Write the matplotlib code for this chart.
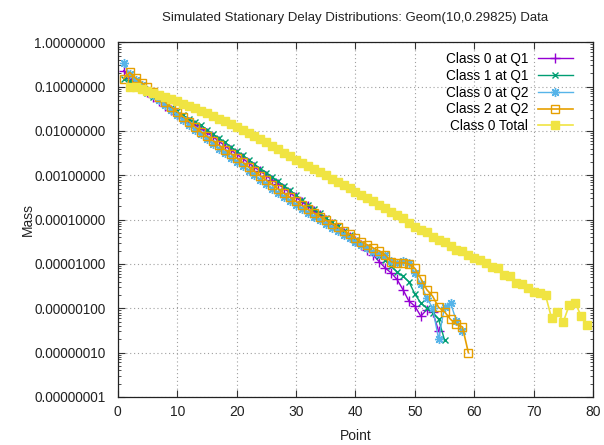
import numpy as np
import matplotlib.pyplot as plt
from matplotlib.ticker import LogLocator, FormatStrFormatter, NullFormatter

plt.rcParams['font.family'] = ['Liberation Sans', 'DejaVu Sans']

# log10 of the simulated mass at each delay point
c0_q1_x = list(range(1, 55))
c0_q1_log = [-0.64, -0.80, -0.92, -1.03, -1.13, -1.23, -1.33, -1.43, -1.52, -1.61,
             -1.70, -1.79, -1.87, -1.95, -2.04, -2.13, -2.23, -2.33, -2.43, -2.52,
             -2.62, -2.72, -2.82, -2.91, -3.01, -3.11, -3.20, -3.30, -3.40, -3.50,
             -3.60, -3.70, -3.80, -3.90, -4.00, -4.10, -4.20, -4.30, -4.40, -4.49,
             -4.58, -4.68, -4.80, -4.95, -5.09, -5.20, -5.35, -5.58, -5.84, -5.95,
             -6.18, -6.03, -6.08, -6.52]

c1_q1_x = list(range(1, 56))
c1_q1_log = [-0.82, -0.88, -0.97, -1.06, -1.14, -1.23, -1.31, -1.40, -1.48, -1.56,
             -1.65, -1.73, -1.80, -1.87, -1.97, -2.07, -2.16, -2.26, -2.36, -2.46,
             -2.55, -2.65, -2.75, -2.85, -2.94, -3.04, -3.14, -3.24, -3.34, -3.45,
             -3.55, -3.66, -3.76, -3.86, -3.96, -4.06, -4.15, -4.25, -4.35, -4.45,
             -4.54, -4.63, -4.72, -4.82, -4.92, -5.05, -5.18, -5.28, -5.40, -5.68,
             -5.88, -6.00, -6.10, -6.25, -6.72]

c0_q2_x = list(range(1, 59))
c0_q2_log = [-0.47, -0.72, -0.85, -0.96, -1.08, -1.20, -1.31, -1.42, -1.53, -1.64,
             -1.75, -1.86, -1.97, -2.08, -2.19, -2.29, -2.40, -2.50, -2.60, -2.70,
             -2.80, -2.90, -3.00, -3.10, -3.20, -3.30, -3.40, -3.50, -3.59, -3.68,
             -3.77, -3.86, -3.94, -4.02, -4.10, -4.18, -4.26, -4.34, -4.42, -4.50,
             -4.57, -4.65, -4.74, -4.78, -4.79, -4.94, -4.98, -4.94, -4.98, -5.20,
             -5.46, -5.76, -6.00, -6.70, -5.96, -5.88, -6.29, -6.51]

c2_q2_x = list(range(1, 60))
c2_q2_log = [-0.82, -0.68, -0.81, -0.91, -1.02, -1.13, -1.24, -1.35, -1.46, -1.57,
             -1.68, -1.79, -1.91, -2.02, -2.12, -2.22, -2.32, -2.42, -2.51, -2.61,
             -2.71, -2.81, -2.91, -3.01, -3.11, -3.21, -3.31, -3.41, -3.50, -3.59,
             -3.68, -3.77, -3.85, -3.93, -4.01, -4.09, -4.17, -4.25, -4.33, -4.42,
             -4.50, -4.57, -4.64, -4.71, -4.80, -4.95, -4.98, -4.97, -5.00, -5.10,
             -5.33, -5.58, -5.73, -5.98, -6.08, -6.25, -6.36, -6.42, -7.00]

total_x = list(range(2, 80))
total_log = [-1.00, -1.02, -1.05, -1.09, -1.14, -1.18, -1.23, -1.28, -1.33,
             -1.39, -1.44, -1.49, -1.54, -1.60, -1.66, -1.72, -1.78, -1.84, -1.90,
             -1.97, -2.04, -2.11, -2.18, -2.25, -2.33, -2.41, -2.49, -2.57, -2.65,
             -2.72, -2.79, -2.86, -2.93, -3.00, -3.08, -3.15, -3.22, -3.29, -3.37,
             -3.44, -3.51, -3.59, -3.67, -3.74, -3.82, -3.90, -3.97, -4.07, -4.16,
             -4.24, -4.27, -4.39, -4.47, -4.50, -4.60, -4.68, -4.71, -4.79, -4.87,
             -4.90, -4.98, -5.08, -5.10, -5.25, -5.28, -5.42, -5.46, -5.55, -5.63,
             -5.66, -5.71, -6.22, -6.09, -6.30, -5.92, -5.88, -6.18, -6.37]

y_ticks = [1.0, 1e-1, 1e-2, 1e-3, 1e-4, 1e-5, 1e-6, 1e-7, 1e-8]
x_ticks = list(range(0, 81, 10))

# gnuplot-style point types: plus, cross, asterisk, open box, filled box
series = [
    ("Class 0 at Q1", c0_q1_x, c0_q1_log, "#9400D3", "+", 6.5, "full", 1.0),
    ("Class 1 at Q1", c1_q1_x, c1_q1_log, "#009E73", "x", 5, "full", 1.0),
    ("Class 0 at Q2", c0_q2_x, c0_q2_log, "#56B4E9", (8, 2, 0), 6.5, "full", 1.0),
    ("Class 2 at Q2", c2_q2_x, c2_q2_log, "#E69F00", "s", 5.5, "none", 1.2),
    ("Class 0 Total", total_x, total_log, "#F0E442", "s", 6, "full", 1.2),
]

fig = plt.figure(figsize=(6.04, 4.45), dpi=100)
ax = fig.add_axes([0.195, 0.108, 0.787, 0.797])

for label, xs, logs, col, mk, ms, fill, lw in series:
    ys = 10.0 ** np.array(logs)
    ax.plot(xs, ys, color=col, lw=lw, marker=mk, markersize=ms,
            fillstyle=fill, markeredgewidth=1.0, label=label)

ax.set_yscale('log')
ax.set_xlim(0, 80)
ax.set_ylim(1e-8, 1.0)
ax.set_xticks(x_ticks)
ax.set_yticks(y_ticks)
ax.yaxis.set_minor_locator(LogLocator(base=10, subs=np.arange(2, 10), numticks=20))
ax.yaxis.set_major_formatter(FormatStrFormatter('%.8f'))
ax.yaxis.set_minor_formatter(NullFormatter())

ax.tick_params(which='both', direction='in', top=True, right=True,
               colors='#333333', labelcolor='#222222')
ax.tick_params(which='major', length=5, width=0.8)
ax.tick_params(which='minor', length=2.5, width=0.6)
ax.tick_params(axis='y', labelsize=9.8, pad=9)
ax.tick_params(axis='x', labelsize=10, pad=6)

ax.grid(True, which='major', color='#a0a0a0', lw=0.8, linestyle=(0, (1, 2.5)))
for sp in ax.spines.values():
    sp.set_color('#222222')
    sp.set_linewidth(0.9)

ax.set_xlabel("Point", fontsize=10, color='#222222', labelpad=7)
ax.set_ylabel("Mass", fontsize=10, color='#222222')
ax.yaxis.set_label_coords(-0.175, 0.5)
ax.set_title("Simulated Stationary Delay Distributions: Geom(10,0.29825) Data",
             fontsize=9.5, color='#222222', pad=15)

ax.legend(loc='upper right', bbox_to_anchor=(0.975, 0.995), frameon=False,
          markerfirst=False, fontsize=9.8, handlelength=2.6, labelspacing=0.2,
          handletextpad=0.7, borderaxespad=0.2)

fig.savefig("out.png", dpi=100)
